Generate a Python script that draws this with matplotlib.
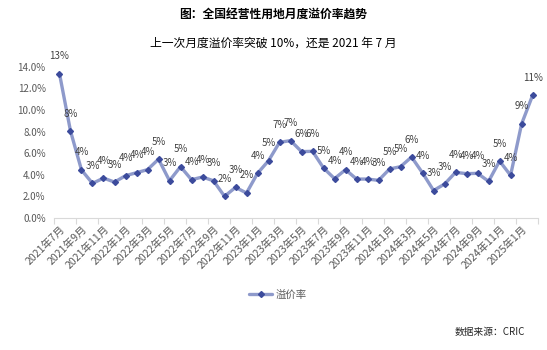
import numpy as np
import matplotlib.pyplot as plt

plt.rcParams['font.family'] = ['Noto Sans CJK SC', 'DejaVu Sans']

# 2021年7月 ~ 2025年2月，每月一个点
months = []
for y in range(2021, 2026):
    for m in range(1, 13):
        if (y == 2021 and m < 7) or (y == 2025 and m > 2):
            continue
        months.append(f"{y}年{m}月")

# 月度溢价率（%）
premium = [13.37, 8.06, 4.45, 3.21, 3.70, 3.33, 3.92, 4.20, 4.48, 5.45,
           3.46, 4.76, 3.55, 3.80, 3.45, 2.01, 2.84, 2.32, 4.14, 5.31,
           7.01, 7.17, 6.15, 6.18, 4.63, 3.65, 4.48, 3.61, 3.61, 3.49,
           4.54, 4.76, 5.65, 4.17, 2.55, 3.15, 4.23, 4.11, 4.14, 3.40,
           5.28, 3.95, 8.71, 11.36]

x = np.arange(len(months))

fig = plt.figure(figsize=(5.47, 3.5), dpi=100)
ax = fig.add_axes([0.0987, 0.377, 0.885, 0.432])

ax.plot(x, premium, color='#8e9acb', lw=2.4, solid_capstyle='round',
        marker='D', ms=3.0, mfc='#3c4b9c', mec='#3c4b9c', label='溢价率')

for xi, v in zip(x, premium):
    ax.annotate(f"{v:.0f}%", (xi, v), xytext=(0, 9), textcoords='offset points',
                ha='center', va='bottom', fontsize=7, color='#404040')

ax.set_xlim(-0.5, len(months) - 0.5)
ax.set_ylim(0, 14)
ax.set_yticks(np.arange(0, 15, 2))
ax.set_yticklabels([f"{t:.1f}%" for t in np.arange(0, 15, 2)], fontsize=7, color='#595959')

ax.set_xticks(np.arange(-0.5, len(months), 2))
ax.set_xticklabels([])
ax.set_xticks(x[::2], minor=True)
ax.set_xticklabels(months[::2], minor=True, rotation=45, ha='right', va='top',
                   rotation_mode='anchor', fontsize=7.6, color='#595959')
ax.tick_params(axis='x', which='major', length=4, color='#d9d9d9')
ax.tick_params(axis='x', which='minor', length=0, pad=4)
ax.tick_params(axis='y', length=0, pad=6)

for s in ['top', 'right', 'left']:
    ax.spines[s].set_visible(False)
ax.spines['bottom'].set_color('#d9d9d9')

fig.text(0.5, 0.957, '图：全国经营性用地月度溢价率趋势', ha='center', va='center',
         fontsize=8.5, fontweight='bold', color='#000000')
fig.text(0.5, 0.877, '上一次月度溢价率突破 10%，还是 2021 年 7 月', ha='center', va='center',
         fontsize=8.5, color='#000000')

fig.legend(loc='center', bbox_to_anchor=(0.508, 0.157), frameon=False, fontsize=7.5,
           handlelength=2.2, handletextpad=0.3, labelcolor='#595959')

fig.text(0.96, 0.052, '数据来源：CRIC', ha='right', va='center', fontsize=7, color='#262626')

fig.savefig('out.png', dpi=100)
